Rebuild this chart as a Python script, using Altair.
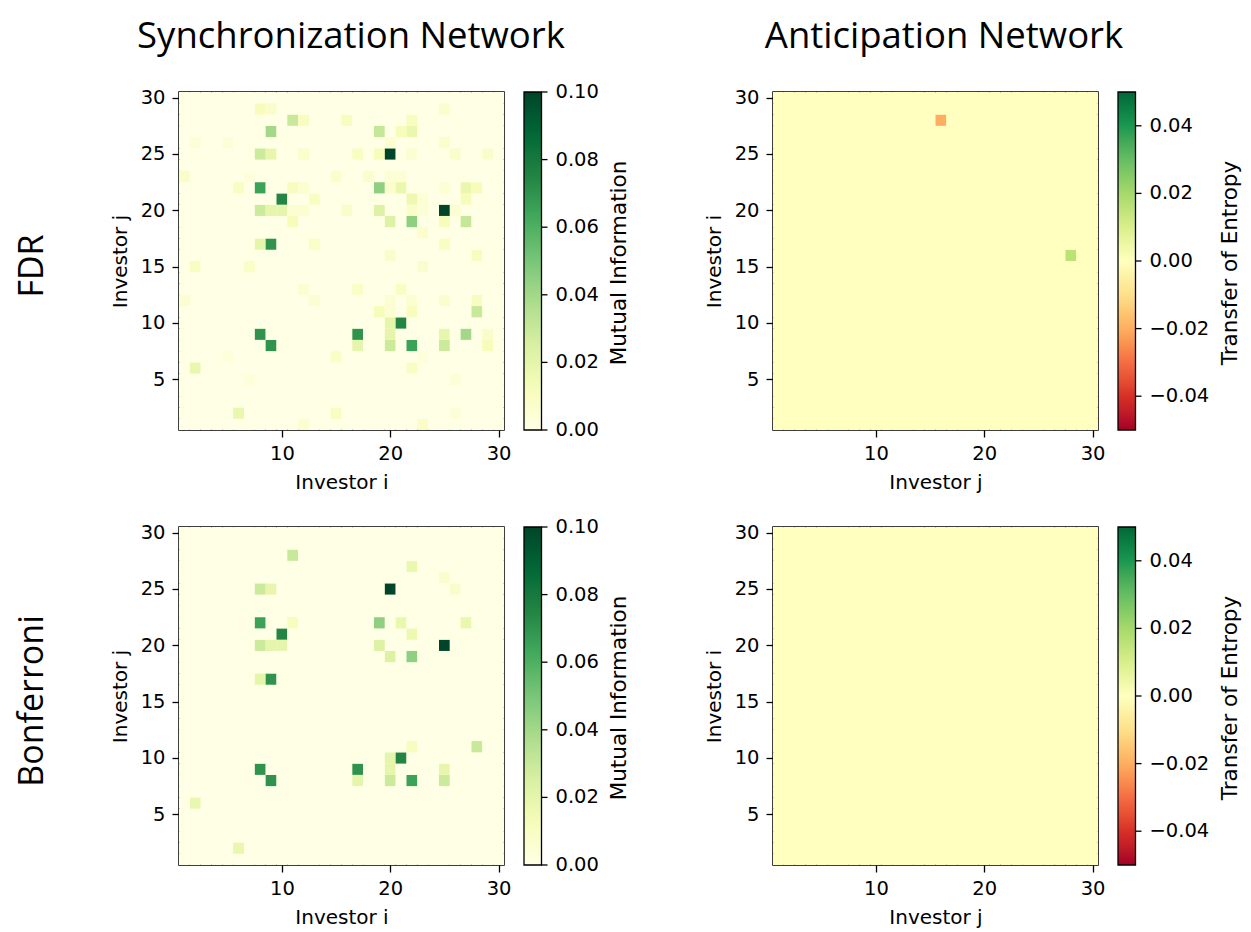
import altair as alt
import pandas as pd

# ---------------- data ----------------
# Synchronization network (mutual information), FDR: x = investor i, y = investor j
sync_fdr_i = [8, 9, 11, 12, 16, 9, 2, 5, 8, 9, 12, 1, 7, 15, 6, 8, 11, 12, 10, 13,
              8, 9, 10, 11, 12, 16, 11, 8, 9, 13, 2, 7,
              25, 22, 19, 21, 22, 20, 25, 17, 19, 20, 22, 26, 29, 18, 20, 21, 19, 20,
              21, 25, 27, 28, 22, 23, 27, 19, 22, 23, 25, 26, 20, 22, 25, 27, 23, 25,
              20, 28, 23,
              12, 1, 13, 8, 9, 5, 15, 2, 7, 6, 15, 12,
              17, 21, 20, 22, 25, 28, 19, 20, 22, 28, 20, 21, 17, 20, 25, 27, 29, 17,
              20, 22, 25, 29, 23, 22, 26, 26, 23]
sync_fdr_j = [29, 29, 28, 28, 28, 27, 26, 26, 25, 25, 25, 23, 23, 23, 22, 22, 22, 22, 21, 21,
              20, 20, 20, 20, 20, 20, 19, 17, 17, 17, 15, 15,
              29, 28, 27, 27, 27, 26, 26, 25, 25, 25, 25, 25, 25, 23, 23, 23, 22, 22,
              22, 22, 22, 22, 21, 21, 21, 20, 20, 20, 20, 20, 19, 19, 19, 19, 18, 17,
              16, 16, 15,
              13, 12, 12, 9, 8, 7, 7, 6, 5, 2, 2, 1,
              13, 13, 12, 12, 12, 12, 11, 11, 11, 11, 10, 10, 9, 9, 9, 9, 9, 8,
              8, 8, 8, 8, 7, 6, 5, 2, 1]
sync_fdr_v = [0.012, 0.008, 0.030, 0.011, 0.011, 0.040, 0.004, 0.004, 0.029, 0.019, 0.007, 0.008, 0.003, 0.007, 0.010, 0.065, 0.011, 0.006, 0.075, 0.010,
              0.029, 0.020, 0.020, 0.006, 0.006, 0.008, 0.012, 0.020, 0.070, 0.009, 0.010, 0.009,
              0.007, 0.011, 0.031, 0.012, 0.018, 0.006, 0.007, 0.010, 0.012, 0.100, 0.006, 0.008, 0.008, 0.007, 0.005, 0.005, 0.045, 0.007,
              0.018, 0.005, 0.018, 0.012, 0.017, 0.005, 0.012, 0.023, 0.008, 0.005, 0.100, 0.006, 0.023, 0.045, 0.012, 0.031, 0.007, 0.010,
              0.008, 0.011, 0.007,
              0.006, 0.006, 0.006, 0.070, 0.070, 0.003, 0.009, 0.018, 0.003, 0.018, 0.010, 0.006,
              0.009, 0.010, 0.006, 0.006, 0.007, 0.011, 0.012, 0.006, 0.011, 0.030, 0.020, 0.075, 0.070, 0.020, 0.019, 0.040, 0.008, 0.020,
              0.029, 0.065, 0.029, 0.012, 0.003, 0.010, 0.004, 0.004, 0.008]

# Synchronization network, Bonferroni
sync_bon_i = [11, 8, 9, 8, 11, 10, 8, 9, 10, 8, 9, 22, 25, 20, 26, 19, 21, 27, 22, 19,
              25, 20, 22, 8, 9, 2, 6, 22, 28, 20, 21, 17, 20, 25, 17, 20, 22, 25]
sync_bon_j = [28, 25, 25, 22, 22, 21, 20, 20, 20, 17, 17, 27, 26, 25, 25, 22, 22, 22, 21, 20,
              20, 19, 19, 9, 8, 6, 2, 11, 11, 10, 10, 9, 9, 9, 8, 8, 8, 8]
sync_bon_v = [0.030, 0.029, 0.019, 0.065, 0.011, 0.075, 0.029, 0.020, 0.020, 0.020, 0.070, 0.018, 0.007, 0.100, 0.008, 0.045, 0.018, 0.018, 0.017, 0.023,
              0.100, 0.023, 0.045, 0.070, 0.070, 0.018, 0.018, 0.011, 0.030, 0.020, 0.075, 0.070, 0.020, 0.019, 0.020, 0.029, 0.065, 0.029]

# Anticipation network (transfer of entropy): x = investor j, y = investor i
ant_fdr_x = [16, 28]
ant_fdr_y = [28, 16]
ant_fdr_v = [-0.020, 0.016]
ant_bon_x = []
ant_bon_y = []
ant_bon_v = []

N_INV = 30
mi_ticks = [0.0, 0.02, 0.04, 0.06, 0.08, 0.10]
te_ticks = [-0.04, -0.02, 0.0, 0.02, 0.04]
x_ticks = [10, 20, 30]
y_ticks = [5, 10, 15, 20, 25, 30]

# colormaps (ColorBrewer YlGn / RdYlGn, as in matplotlib)
ylgn_stops = [0.0, 0.0125, 0.025, 0.0375, 0.05, 0.0625, 0.075, 0.0875, 0.1]
ylgn_colors = ["#ffffe5", "#f7fcb9", "#d9f0a3", "#addd8e", "#78c679",
               "#41ab5d", "#238443", "#006837", "#004529"]
rdylgn_stops = [-0.05, -0.04, -0.03, -0.02, -0.01, 0.0, 0.01, 0.02, 0.03, 0.04, 0.05]
rdylgn_colors = ["#a50026", "#d73027", "#f46d43", "#fdae61", "#fee08b", "#ffffbf",
                 "#d9ef8b", "#a6d96a", "#66bd63", "#1a9850", "#006837"]

FONT = "DejaVu Sans"
TFONT = "Open Sans"
W, H = 325, 338
CB_OFF, CB_W = 20, 17.5


def grid(xs, ys, vs):
    cells = {(a, b): v for a, b, v in zip(xs, ys, vs)}
    rows = []
    for a in range(1, N_INV + 1):
        for b in range(1, N_INV + 1):
            rows.append({"x": a, "y": b, "v": cells.get((a, b), 0.0)})
    return pd.DataFrame(rows)


def panel(df, stops, colors, ticks, ltitle, ltitle_x, xtitle, ytitle, zero_fill,
          row_label=None, col_title=None, title_dx=0):
    sc = alt.Scale(domain=[0.5, N_INV + 0.5], nice=False, zero=False)
    heat = alt.Chart(df).transform_calculate(
        x0="datum.x - 0.5", x1="datum.x + 0.5",
        y0="datum.y - 0.5", y1="datum.y + 0.5",
    ).mark_rect(strokeWidth=0).encode(
        x=alt.X("x0:Q", scale=sc, axis=alt.Axis(values=x_ticks, title=xtitle)),
        x2="x1:Q",
        y=alt.Y("y0:Q", scale=sc, axis=alt.Axis(values=y_ticks, title=ytitle)),
        y2="y1:Q",
        color=alt.Color("v:Q", scale=alt.Scale(domain=stops, range=colors, clamp=True),
                        legend=alt.Legend(title=None, values=ticks, labelOpacity=0,
                                          labelExpr="''", labelFontSize=6)),
    )
    # colour-bar tick labels and tick marks (placed by the colour-bar value scale)
    cb_scale = alt.Scale(domain=[stops[0], stops[-1]], nice=False, zero=False)
    tick_df = pd.DataFrame({"t": ticks})
    cb_labels = alt.Chart(tick_df).mark_text(
        align="left", baseline="middle", font=FONT, fontSize=19.5, color="black",
    ).encode(
        x=alt.value(W + CB_OFF + CB_W + 14),
        y=alt.Y("t:Q", scale=cb_scale, axis=None),
        text=alt.Text("t:Q", format=".2f"),
    )
    cb_ticks = alt.Chart(tick_df).mark_rule(color="black", strokeWidth=1.3).encode(
        x=alt.value(W + CB_OFF + CB_W),
        x2=alt.value(W + CB_OFF + CB_W + 6),
        y=alt.Y("t:Q", scale=cb_scale, axis=None),
    )
    ltext = alt.Chart(pd.DataFrame({"t": [ltitle]})).mark_text(
        angle=270, fontSize=21.5, font=FONT, baseline="middle", align="center",
        color="black",
    ).encode(text="t:N", x=alt.value(ltitle_x), y=alt.value(H / 2 + 2))
    layers = [heat, cb_labels, cb_ticks, ltext]
    if row_label:
        lab = alt.Chart(pd.DataFrame({"t": [row_label]})).mark_text(
            angle=270, fontSize=34, font=TFONT, baseline="middle", align="center",
            color="black",
        ).encode(text="t:N", x=alt.value(-146), y=alt.value(H / 2 + 5))
        layers.append(lab)
    if col_title:
        ttl = alt.Chart(pd.DataFrame({"t": [col_title]})).mark_text(
            fontSize=36.5, font=TFONT, baseline="alphabetic", align="center",
            color="black",
        ).encode(text="t:N", x=alt.value(W / 2 + title_dx), y=alt.value(-44))
        layers.append(ttl)
    ch = alt.layer(*layers).resolve_scale(y="independent").properties(
        width=W, height=H,
        view=alt.ViewBackground(fill=zero_fill, stroke="black", strokeWidth=1.5),
    )
    return ch


tl = panel(grid(sync_fdr_i, sync_fdr_j, sync_fdr_v), ylgn_stops, ylgn_colors, mi_ticks,
           "Mutual Information", 441, "Investor i", "Investor j", "#ffffe5",
           row_label="FDR", col_title="Synchronization Network", title_dx=9.5)
tr = panel(grid(ant_fdr_x, ant_fdr_y, ant_fdr_v), rdylgn_stops, rdylgn_colors, te_ticks,
           "Transfer of Entropy", 458, "Investor j", "Investor i", "#ffffbf",
           col_title="Anticipation Network", title_dx=8.5)
bl = panel(grid(sync_bon_i, sync_bon_j, sync_bon_v), ylgn_stops, ylgn_colors, mi_ticks,
           "Mutual Information", 441, "Investor i", "Investor j", "#ffffe5",
           row_label="Bonferroni")
br = panel(grid(ant_bon_x, ant_bon_y, ant_bon_v), rdylgn_stops, rdylgn_colors, te_ticks,
           "Transfer of Entropy", 458, "Investor j", "Investor i", "#ffffbf")

top = alt.hconcat(tl, tr, spacing=71).resolve_scale(color="independent")
bot = alt.hconcat(bl, br, spacing=71).resolve_scale(color="independent")

chart = alt.vconcat(top, bot, spacing=22).resolve_scale(color="independent").properties(
    padding={"left": 7, "top": 10, "right": 0, "bottom": 0}
).configure_axis(
    labelFont=FONT, labelFontSize=19.5, titleFont=FONT, titleFontSize=20,
    titleFontWeight="normal", labelColor="black", titleColor="black",
    tickColor="black", tickSize=7, tickWidth=1.3, domain=False, grid=False,
    labelPadding=7,
).configure_axisY(titlePadding=10).configure_axisX(titlePadding=10).configure_legend(
    gradientLength=H, gradientThickness=CB_W, gradientStrokeColor="black",
    gradientStrokeWidth=1.3, offset=CB_OFF, padding=0,
).configure_view(stroke="black", strokeWidth=1.5)

chart.save("out.html", embed_options={"renderer": "svg", "actions": False})
